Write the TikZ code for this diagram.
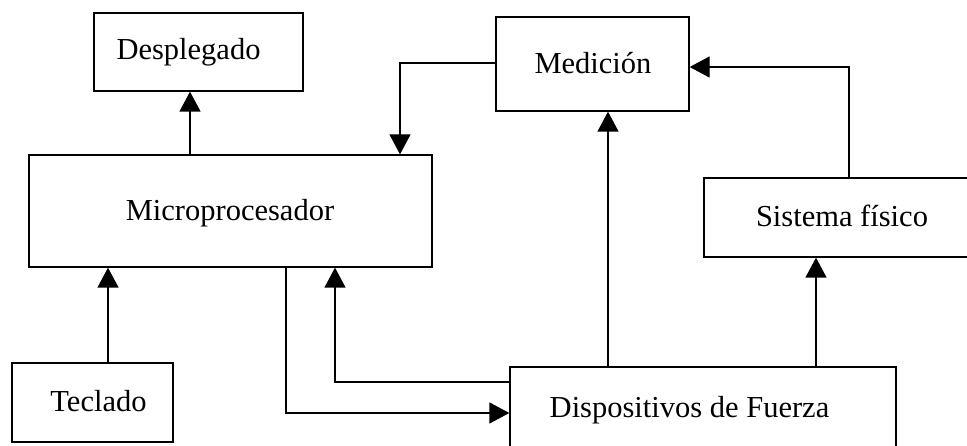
\documentclass[tikz,border=0pt]{standalone}
\usepackage{fontspec}
\setmainfont{Liberation Serif}
\usetikzlibrary{arrows.meta,calc}
\begin{document}
\begin{tikzpicture}[x=1pt,y=-1pt,
  box/.style={draw,line width=1.3pt,rectangle,inner sep=0pt},
  txt/.style={inner sep=0pt,font=\fontsize{30.5}{36}\selectfont},
  arr/.style={line width=1.3pt,-{Triangle[length=20pt,width=21pt]}},
  wire/.style={line width=1.3pt}]
\useasboundingbox (0,0) rectangle (967,446);
\clip (0,0) rectangle (967,446);

% blocks
\node[box,minimum width=209pt,minimum height=78pt]  (desp)   at (198.5,52)  {};
\node[box,minimum width=193pt,minimum height=94pt]  (med)    at (592.5,64)  {};
\node[box,minimum width=403pt,minimum height=112pt] (micro)  at (230.5,211) {};
\node[box,minimum width=276pt,minimum height=79pt]  (sis)    at (842,217.5) {};
\node[box,minimum width=161pt,minimum height=79pt]  (tec)    at (92.5,402.5) {};
\node[box,minimum width=386pt,minimum height=88pt]  (fuerza) at (703,411)   {};

% labels
\node[txt] (despT)   at (188.5,52)  {Desplegado};
\node[txt] (medT)    at (593,63)    {Medición};
\node[txt] (microT)  at (230,213)   {Microprocesador};
\node[txt] (sisT)    at (842,216)   {Sistema físico};
\node[txt] (tecT)    at (98.5,401)  {Teclado};
\node[txt] (fuerzaT) at (689.5,410) {Dispositivos de Fuerza};

% routing points
\coordinate (c1) at (190,0);
\coordinate (c2) at (108,0);
\coordinate (c3) at (286,413);
\coordinate (c4) at (335,382);
\coordinate (c5) at (608,0);
\coordinate (c6) at (816,0);
\coordinate (c7) at (849,67);
\coordinate (c8) at (400,63);

% connectors
\draw[arr] (micro.north -| c1) -- (desp.south -| c1);
\draw[arr] (tec.north -| c2) -- (micro.south -| c2);
\draw[arr] (micro.south -| c3) |- (fuerza.west |- c3);
\draw[arr] (fuerza.west |- c4) -| (micro.south -| c4);
\draw[arr] (fuerza.north -| c5) -- (med.south -| c5);
\draw[arr] (fuerza.north -| c6) -- (sis.south -| c6);
\draw[arr] (sis.north -| c7) |- (med.east |- c7);
\draw[arr] (med.west |- c8) -| (micro.north -| c8);
\end{tikzpicture}
\end{document}
